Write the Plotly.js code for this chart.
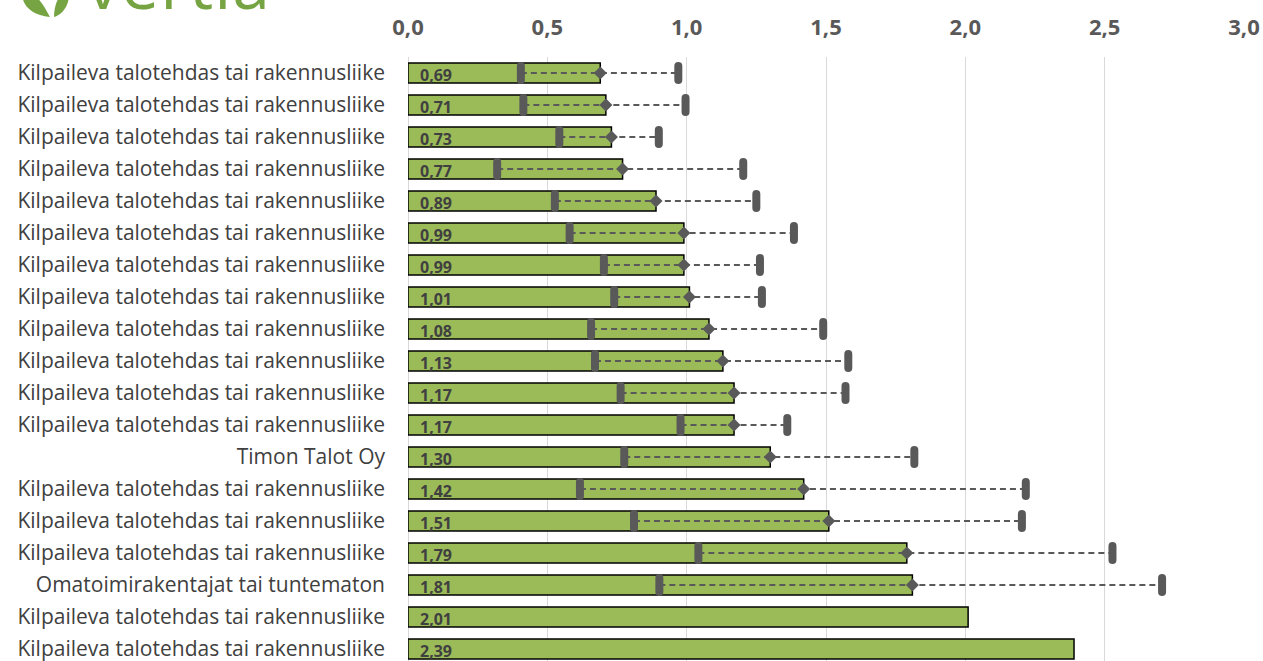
<!DOCTYPE html>
<html>
<head>
<meta charset="utf-8">
<script src="https://cdn.plot.ly/plotly-3.0.1.min.js"></script>
<style>
html,body{margin:0;padding:0;background:#fff;overflow:hidden;width:1263px;height:661px;}
#chart{width:1263px;height:680px;}
#logo{position:absolute;left:0;top:0;width:320px;height:20px;overflow:hidden;z-index:5;}
#logo .txt{position:absolute;left:86px;top:-50px;font-family:"Open Sans",sans-serif;font-size:68px;color:#77A443;letter-spacing:1px;line-height:66px;}
.scatterlayer .trace:nth-child(2) path.point{stroke-linecap:round;}
</style>
</head>
<body>
<div id="logo">
  <svg width="80" height="20" style="position:absolute;left:0;top:0">
    <path d="M22,-12 C20,4 30,15 50,17 C44,6 38,-6 22,-12 Z" fill="#77A443"/>
    <path d="M68,-12 C72,4 62,15 54,17 C54,6 58,-6 68,-12 Z" fill="#77A443"/>
  </svg>
  <div class="txt">vertia</div>
</div>
<div id="chart"></div>
<script>
var categories = [
  "Kilpaileva talotehdas tai rakennusliike",
  "Kilpaileva talotehdas tai rakennusliike",
  "Kilpaileva talotehdas tai rakennusliike",
  "Kilpaileva talotehdas tai rakennusliike",
  "Kilpaileva talotehdas tai rakennusliike",
  "Kilpaileva talotehdas tai rakennusliike",
  "Kilpaileva talotehdas tai rakennusliike",
  "Kilpaileva talotehdas tai rakennusliike",
  "Kilpaileva talotehdas tai rakennusliike",
  "Kilpaileva talotehdas tai rakennusliike",
  "Kilpaileva talotehdas tai rakennusliike",
  "Kilpaileva talotehdas tai rakennusliike",
  "Timon Talot Oy",
  "Kilpaileva talotehdas tai rakennusliike",
  "Kilpaileva talotehdas tai rakennusliike",
  "Kilpaileva talotehdas tai rakennusliike",
  "Omatoimirakentajat tai tuntematon",
  "Kilpaileva talotehdas tai rakennusliike",
  "Kilpaileva talotehdas tai rakennusliike"
];
var meanValues = [0.69,0.71,0.73,0.77,0.89,0.99,0.99,1.01,1.08,1.13,1.17,1.17,1.30,1.42,1.51,1.79,1.81,2.01,2.39];
var minValues  = [0.405,0.414,0.543,0.32,0.527,0.58,0.703,0.74,0.657,0.671,0.763,0.978,0.776,0.617,0.811,1.042,0.902,null,null];
var maxValues  = [0.97,0.996,0.90,1.203,1.25,1.385,1.263,1.27,1.49,1.58,1.57,1.361,1.817,2.217,2.203,2.528,2.706,null,null];
var xTickVals = [0,0.5,1,1.5,2,2.5,3];
var xTickText = ["0,0","0,5","1,0","1,5","2,0","2,5","3,0"];

var idx = categories.map(function(_,i){return i;});
var labels = meanValues.map(function(v){return v.toFixed(2).replace('.',',');});

var lineX = [], lineY = [];
idx.forEach(function(i){
  if (minValues[i] !== null) { lineX.push(minValues[i], maxValues[i], null); lineY.push(i, i, null); }
});
var mmX = [], mmY = [];
idx.forEach(function(i){
  if (minValues[i] !== null) { mmX.push(minValues[i], maxValues[i]); mmY.push(i, i); }
});
var dX = [], dY = [];
idx.forEach(function(i){
  if (minValues[i] !== null) { dX.push(meanValues[i]); dY.push(i); }
});

var dark = '#595959';
var traces = [
  {type:'bar', orientation:'h', x:meanValues, y:idx, width:0.62,
   marker:{color:'#9BBB59', line:{color:'#000', width:1.5}}, hoverinfo:'skip'},
  {type:'scatter', mode:'lines', x:lineX, y:lineY, line:{color:dark, width:2, dash:'6px,4px'}, hoverinfo:'skip', connectgaps:false},
  {type:'scatter', mode:'markers', x:mmX, y:mmY, marker:{symbol:'line-ns', size:10, color:dark, line:{color:dark, width:8}}, hoverinfo:'skip'},
  {type:'scatter', mode:'markers', x:dX, y:dY, marker:{symbol:'diamond', size:10, color:dark}, hoverinfo:'skip'}
];

var annotations = idx.map(function(i){
  return {x:0, y:i, xref:'x', yref:'y', text:'<b>'+labels[i]+'</b>', showarrow:false, xanchor:'left', xshift:10, yshift:-2,
          font:{family:'Open Sans, sans-serif', size:16, color:'#404040'}};
});

var layout = {
  width:1263, height:680,
  margin:{l:408, r:19, t:57, b:19, pad:0},
  paper_bgcolor:'#fff', plot_bgcolor:'#fff',
  showlegend:false,
  xaxis:{range:[0,3], side:'top', tickvals:xTickVals, ticktext:xTickText.map(function(t){return '<b>'+t+'</b>';}),
         showgrid:true, gridcolor:'#D9D9D9', gridwidth:1,
         zeroline:true, zerolinecolor:'#D9D9D9', zerolinewidth:1, showline:false, ticks:'', ticklabelstandoff:17,
         tickfont:{family:'Open Sans, sans-serif', size:22, color:dark}, fixedrange:true},
  yaxis:{range:[18.375,-0.5], tickvals:idx, ticktext:categories, showgrid:false, zeroline:false, showline:false, ticks:'',
         ticklabelstandoff:22, ticklabeloverflow:'allow', tickfont:{family:'Open Sans, sans-serif', size:21, color:'#404040'}, fixedrange:true},
  annotations:annotations
};

Plotly.newPlot('chart', traces, layout, {displayModeBar:false, staticPlot:true});
</script>
</body>
</html>
